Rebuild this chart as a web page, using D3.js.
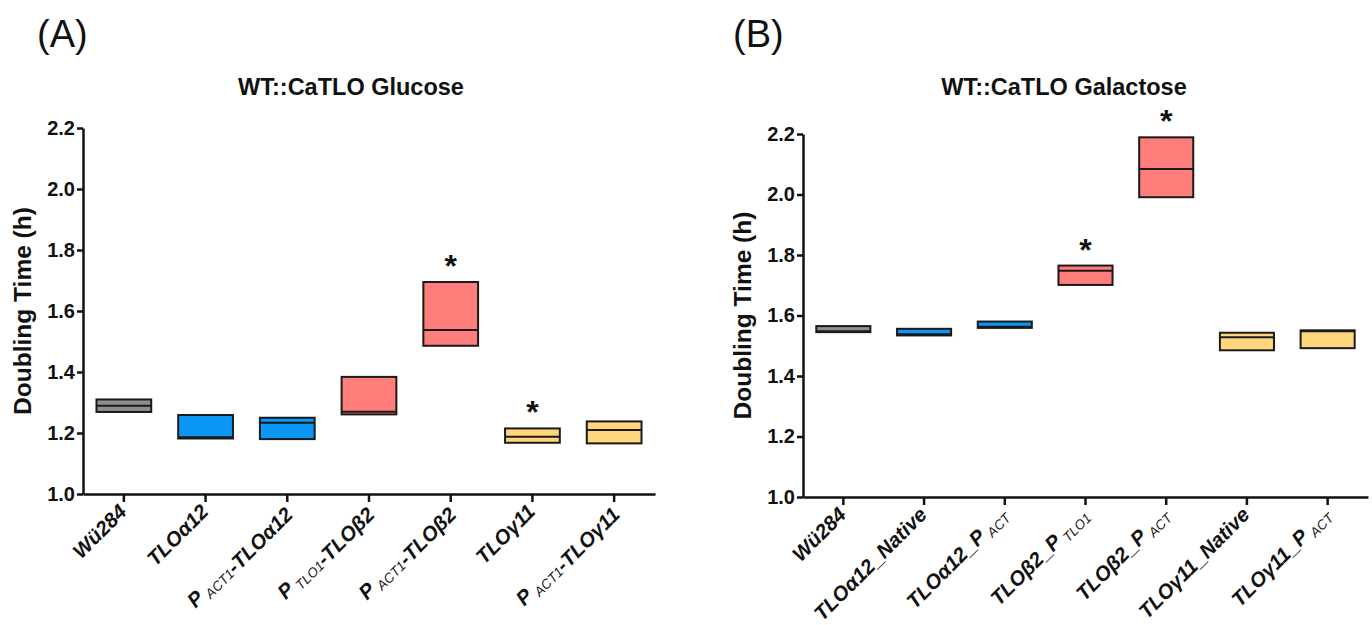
<!DOCTYPE html>
<html>
<head>
<meta charset="utf-8">
<script src="https://cdn.jsdelivr.net/npm/d3@7"></script>
<style>
  body { margin: 0; background: #fff; }
  svg { display: block; }
  text { font-family: "Liberation Sans", Arial, sans-serif; }
</style>
</head>
<body>
<svg id="chart" width="1372" height="625"></svg>
<script>
// ---------- DATA ----------
// Labels: text in [brackets] is drawn as a subscript
const glucoseCategories = ["Wü284", "TLOα12", "P[ACT1]-TLOα12", "P[TLO1]-TLOβ2", "P[ACT1]-TLOβ2", "TLOγ11", "P[ACT1]-TLOγ11"];
const glucoseMin    = [1.269, 1.182, 1.180, 1.261, 1.486, 1.168, 1.166];
const glucoseMedian = [1.289, 1.186, 1.234, 1.270, 1.538, 1.188, 1.210];
const glucoseMax    = [1.310, 1.259, 1.250, 1.384, 1.695, 1.215, 1.238];
const glucoseStar   = [false, false, false, false, true, true, false];

const galactoseCategories = ["Wü284", "TLOα12_Native", "TLOα12_P[ACT]", "TLOβ2_P[TLO1]", "TLOβ2_P[ACT]", "TLOγ11_Native", "TLOγ11_P[ACT]"];
const galactoseMin    = [1.545, 1.534, 1.559, 1.701, 1.991, 1.485, 1.492];
const galactoseMedian = [1.548, 1.538, 1.563, 1.748, 2.084, 1.528, 1.548];
const galactoseMax    = [1.565, 1.556, 1.580, 1.765, 2.189, 1.543, 1.551];
const galactoseStar   = [false, false, false, true, true, false, false];

const groupColors = ["#8e8e8e", "#0a97f5", "#0a97f5", "#ff7d7a", "#ff7d7a", "#ffd67b", "#ffd67b"];
const yTicks = [1.0, 1.2, 1.4, 1.6, 1.8, 2.0, 2.2];
const yDomain = [1.0, 2.2];

// ---------- DRAW ----------
const svg = d3.select("#chart");

function drawPanel(cfg) {
  const g = svg.append("g");
  const x = d3.scaleBand().domain(cfg.categories).range([cfg.left, cfg.right]).padding(0);
  const y = d3.scaleLinear().domain(yDomain).range([cfg.bottom, cfg.top]);
  const boxW = x.bandwidth() * 0.67;

  // panel letter
  g.append("text").attr("x", cfg.letterX).attr("y", 47)
    .attr("font-size", 38).attr("fill", "#111").text(cfg.letter);

  // title
  g.append("text").attr("x", cfg.titleX).attr("y", 95)
    .attr("text-anchor", "middle").attr("font-size", 23.5).attr("font-weight", "bold")
    .attr("fill", "#111").text(cfg.title);

  // y axis
  const yAxis = g.append("g").attr("transform", `translate(${cfg.left},0)`)
    .call(d3.axisLeft(y).tickValues(yTicks).tickFormat(d3.format(".1f")).tickSize(6).tickSizeOuter(0));
  yAxis.select(".domain").attr("stroke", "#111").attr("stroke-width", 2.5);
  yAxis.selectAll(".tick line").attr("stroke", "#111").attr("stroke-width", 2.5);
  yAxis.selectAll(".tick text").attr("font-size", 20).attr("font-weight", "bold")
    .attr("fill", "#111").attr("x", -8).style("font-family", "'Liberation Sans', Arial, sans-serif");

  // y title
  g.append("text")
    .attr("transform", `translate(${cfg.yTitleX},${(cfg.top + cfg.bottom) / 2}) rotate(-90)`)
    .attr("text-anchor", "middle").attr("font-size", 24.5).attr("font-weight", "bold")
    .attr("fill", "#111").text("Doubling Time (h)");

  // x axis
  const xAxis = g.append("g").attr("transform", `translate(0,${cfg.bottom})`)
    .call(d3.axisBottom(x).tickSize(8).tickSizeOuter(0).tickFormat(""));
  xAxis.select(".domain").attr("stroke", "#111").attr("stroke-width", 2.5);
  xAxis.selectAll(".tick line").attr("stroke", "#111").attr("stroke-width", 2.5);

  // x labels with subscripts
  cfg.categories.forEach((lab, i) => {
    const cx = x(lab) + x.bandwidth() / 2;
    const t = g.append("text")
      .attr("transform", `translate(${cx + 4},${cfg.bottom + 19}) rotate(-45)`)
      .attr("text-anchor", "end").attr("font-size", 20.5).attr("font-weight", "bold")
      .attr("font-style", "italic").attr("fill", "#111");
    const parts = lab.split(/(\[[^\]]*\])/).filter(s => s.length);
    parts.forEach(p => {
      if (p.startsWith("[")) {
        t.append("tspan").attr("font-size", 13.5).attr("font-weight", "normal")
          .attr("dy", 4).attr("dx", 4).text(p.slice(1, -1));
        t.append("tspan").attr("dy", -4).text("");
      } else {
        t.append("tspan").text(p);
      }
    });
  });

  // boxes
  const idx = d3.range(cfg.categories.length);
  g.selectAll("rect.box").data(idx).join("rect")
    .attr("class", "box")
    .attr("x", i => x(cfg.categories[i]) + (x.bandwidth() - boxW) / 2)
    .attr("y", i => y(cfg.max[i]))
    .attr("width", boxW)
    .attr("height", i => y(cfg.min[i]) - y(cfg.max[i]))
    .attr("fill", i => groupColors[i])
    .attr("stroke", "#1a1a1a").attr("stroke-width", 2);

  g.selectAll("line.med").data(idx).join("line")
    .attr("class", "med")
    .attr("x1", i => x(cfg.categories[i]) + (x.bandwidth() - boxW) / 2)
    .attr("x2", i => x(cfg.categories[i]) + (x.bandwidth() + boxW) / 2)
    .attr("y1", i => y(cfg.median[i])).attr("y2", i => y(cfg.median[i]))
    .attr("stroke", "#1a1a1a").attr("stroke-width", 2);

  // significance stars
  g.selectAll("text.star").data(idx.filter(i => cfg.star[i])).join("text")
    .attr("class", "star")
    .attr("x", i => x(cfg.categories[i]) + x.bandwidth() / 2)
    .attr("y", i => y(cfg.max[i]) - 5)
    .attr("text-anchor", "middle").attr("font-size", 32).attr("font-weight", "bold")
    .attr("fill", "#111").text("*");
}

drawPanel({
  categories: glucoseCategories, min: glucoseMin, median: glucoseMedian, max: glucoseMax, star: glucoseStar,
  left: 83, right: 655, top: 128, bottom: 494,
  letter: "(A)", letterX: 37, title: "WT::CaTLO Glucose", titleX: 351, yTitleX: 31
});

drawPanel({
  categories: galactoseCategories, min: galactoseMin, median: galactoseMedian, max: galactoseMax, star: galactoseStar,
  left: 803, right: 1368, top: 134, bottom: 497,
  letter: "(B)", letterX: 733, title: "WT::CaTLO Galactose", titleX: 1064, yTitleX: 751
});
</script>
</body>
</html>
